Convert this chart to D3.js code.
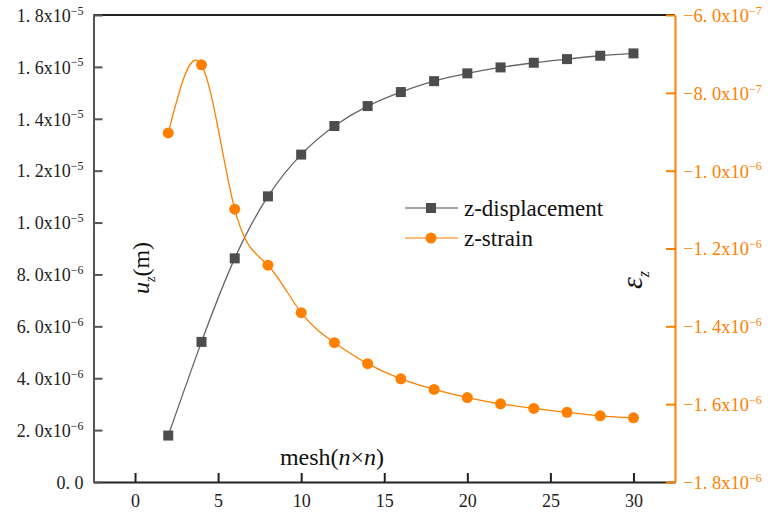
<!DOCTYPE html>
<html>
<head>
<meta charset="utf-8">
<script src="https://cdn.jsdelivr.net/npm/d3@7"></script>
<style>
  html, body { margin: 0; padding: 0; background: #fff; }
  svg text { font-family: "Liberation Serif", "DejaVu Serif", serif; }
</style>
</head>
<body>
<svg id="chart" width="768" height="516"></svg>
<script>
// Mesh sizes (n for an n×n mesh)
const meshSizes = [2, 4, 6, 8, 10, 12, 14, 16, 18, 20, 22, 24, 26, 28, 30];
// Vertical displacement u_z (m)
const zDisplacement = [1.79e-6, 5.40e-6, 8.62e-6, 1.101e-5, 1.262e-5, 1.372e-5, 1.449e-5,
  1.503e-5, 1.545e-5, 1.575e-5, 1.598e-5, 1.616e-5, 1.630e-5, 1.643e-5, 1.652e-5];
// Vertical strain ε_z
const zStrain = [-9.03e-7, -7.28e-7, -1.099e-6, -1.243e-6, -1.365e-6, -1.442e-6, -1.496e-6,
  -1.535e-6, -1.562e-6, -1.583e-6, -1.599e-6, -1.611e-6, -1.621e-6, -1.630e-6, -1.635e-6];

const xTicks = [0, 5, 10, 15, 20, 25, 30];
const leftTicks = [0, 2e-6, 4e-6, 6e-6, 8e-6, 1.0e-5, 1.2e-5, 1.4e-5, 1.6e-5, 1.8e-5];
const leftTickLabels = [["0. 0", ""], ["2. 0x10", "−6"], ["4. 0x10", "−6"], ["6. 0x10", "−6"], ["8. 0x10", "−6"],
  ["1. 0x10", "−5"], ["1. 2x10", "−5"], ["1. 4x10", "−5"], ["1. 6x10", "−5"], ["1. 8x10", "−5"]];
const rightTicks = [-1.8e-6, -1.6e-6, -1.4e-6, -1.2e-6, -1.0e-6, -8e-7, -6e-7];
const rightTickLabels = [["−1. 8x10", "−6"], ["−1. 6x10", "−6"], ["−1. 4x10", "−6"], ["−1. 2x10", "−6"],
  ["−1. 0x10", "−6"], ["−8. 0x10", "−7"], ["−6. 0x10", "−7"]];

const ORANGE = "#ff8000";
const DARK = "#4d4d4d";
const SERIF = "Liberation Serif";

const m = { left: 93.5, right: 675, top: 15, bottom: 482 };
const svg = d3.select("#chart");

const x = d3.scaleLinear().domain([-2.5, 32.5]).range([m.left, m.right]);
const yL = d3.scaleLinear().domain([0, 1.8e-5]).range([m.bottom, m.top]);
const yR = d3.scaleLinear().domain([-1.8e-6, -6e-7]).range([m.bottom, m.top]);

// Frame top line
svg.append("line").attr("x1", m.left).attr("x2", m.right).attr("y1", m.top).attr("y2", m.top)
  .attr("stroke", "#222").attr("stroke-width", 2);

// Tick label with a raised exponent, e.g. 1. 8x10^-5
function sciLabel(sel, base, exp, xPos, anchor, color, size, expSize) {
  const t = sel.append("text")
    .attr("x", xPos).attr("y", 0).attr("dy", "0.35em")
    .attr("text-anchor", anchor).attr("font-size", size).attr("fill", color)
    .attr("font-family", SERIF);
  t.append("tspan").text(base);
  if (exp) {
    t.append("tspan").attr("dy", "-0.6em").attr("font-size", expSize).text(exp);
  }
}

// Bottom axis
const xAxis = svg.append("g").attr("transform", `translate(0,${m.bottom})`)
  .call(d3.axisBottom(x).tickValues(xTicks).tickSizeInner(-9).tickSizeOuter(0).tickFormat(d3.format("d")));
xAxis.select(".domain").attr("stroke", "#222").attr("stroke-width", 2);
xAxis.selectAll(".tick line").attr("stroke", "#222").attr("stroke-width", 2);
xAxis.selectAll(".tick text").attr("y", 12).attr("dy", "0.71em")
  .attr("font-size", 18).attr("fill", "#222").attr("font-family", SERIF);

// Left axis
const lAxis = svg.append("g").attr("transform", `translate(${m.left},0)`)
  .call(d3.axisLeft(yL).tickValues(leftTicks).tickSizeInner(-9).tickSizeOuter(0).tickFormat(""));
lAxis.select(".domain").attr("stroke", "#555").attr("stroke-width", 2);
lAxis.selectAll(".tick line").attr("stroke", "#555").attr("stroke-width", 2);
lAxis.selectAll(".tick").each(function (d, i) {
  const [base, exp] = leftTickLabels[i];
  sciLabel(d3.select(this), base, exp, -10, "end", "#222", 18, 12);
});

// Right axis
const rAxis = svg.append("g").attr("transform", `translate(${m.right},0)`)
  .call(d3.axisRight(yR).tickValues(rightTicks).tickSizeInner(-9).tickSizeOuter(0).tickFormat(""));
rAxis.select(".domain").attr("stroke", ORANGE).attr("stroke-width", 2);
rAxis.selectAll(".tick line").attr("stroke", ORANGE).attr("stroke-width", 2);
rAxis.selectAll(".tick").each(function (d, i) {
  const [base, exp] = rightTickLabels[i];
  sciLabel(d3.select(this), base, exp, 8, "start", ORANGE, 18.5, 12);
});

// Series lines
const data = meshSizes.map((n, i) => ({ n, u: zDisplacement[i], e: zStrain[i] }));

svg.append("path").datum(data)
  .attr("fill", "none").attr("stroke", "#666").attr("stroke-width", 1.3)
  .attr("d", d3.line().x(d => x(d.n)).y(d => yL(d.u)).curve(d3.curveNatural));

svg.append("path").datum(data)
  .attr("fill", "none").attr("stroke", ORANGE).attr("stroke-width", 1.3)
  .attr("d", d3.line().x(d => x(d.n)).y(d => yR(d.e)).curve(d3.curveNatural));

// Markers
const sq = 10;
svg.append("g").selectAll("rect").data(data).join("rect")
  .attr("x", d => x(d.n) - sq / 2).attr("y", d => yL(d.u) - sq / 2)
  .attr("width", sq).attr("height", sq).attr("fill", DARK);

svg.append("g").selectAll("circle").data(data).join("circle")
  .attr("cx", d => x(d.n)).attr("cy", d => yR(d.e)).attr("r", 5.5).attr("fill", ORANGE);

// Legend
const legend = svg.append("g");
const rows = [
  { label: "z-displacement", color: "#888", y: 208, marker: "rect" },
  { label: "z-strain", color: "#ffa64d", y: 238, marker: "circle" }
];
rows.forEach(r => {
  legend.append("line").attr("x1", 405).attr("x2", 458).attr("y1", r.y).attr("y2", r.y)
    .attr("stroke", r.color).attr("stroke-width", 1.3);
  if (r.marker === "rect") {
    legend.append("rect").attr("x", 431 - 5).attr("y", r.y - 5).attr("width", 10).attr("height", 10).attr("fill", DARK);
  } else {
    legend.append("circle").attr("cx", 431).attr("cy", r.y).attr("r", 5.5).attr("fill", ORANGE);
  }
  legend.append("text").attr("x", 464).attr("y", r.y).attr("dy", "0.35em")
    .attr("font-size", 23).attr("fill", "#111").text(r.label);
});

// Axis titles
const xt = svg.append("text").attr("x", 332).attr("y", 457).attr("dy", "0.35em")
  .attr("text-anchor", "middle").attr("font-size", 24).attr("fill", "#111");
xt.append("tspan").text("mesh(");
xt.append("tspan").attr("font-style", "italic").text("n");
xt.append("tspan").text("×");
xt.append("tspan").attr("font-style", "italic").text("n");
xt.append("tspan").text(")");

const yt = svg.append("text").attr("transform", "translate(141,268) rotate(-90)")
  .attr("text-anchor", "middle").attr("dy", "0.35em").attr("font-size", 24).attr("fill", "#111");
yt.append("tspan").attr("font-style", "italic").text("u");
yt.append("tspan").attr("font-style", "italic").attr("font-size", 14).attr("dy", 6).text("z");
yt.append("tspan").attr("dy", -6).text("(m)");

const et = svg.append("text").attr("transform", "translate(631,280) rotate(-90)")
  .attr("text-anchor", "middle").attr("dy", "0.35em").attr("font-size", 30).attr("fill", "#111");
et.append("tspan").attr("font-style", "italic").text("ε");
et.append("tspan").attr("font-style", "italic").attr("font-size", 16).attr("dy", 7).text("z");
</script>
</body>
</html>
